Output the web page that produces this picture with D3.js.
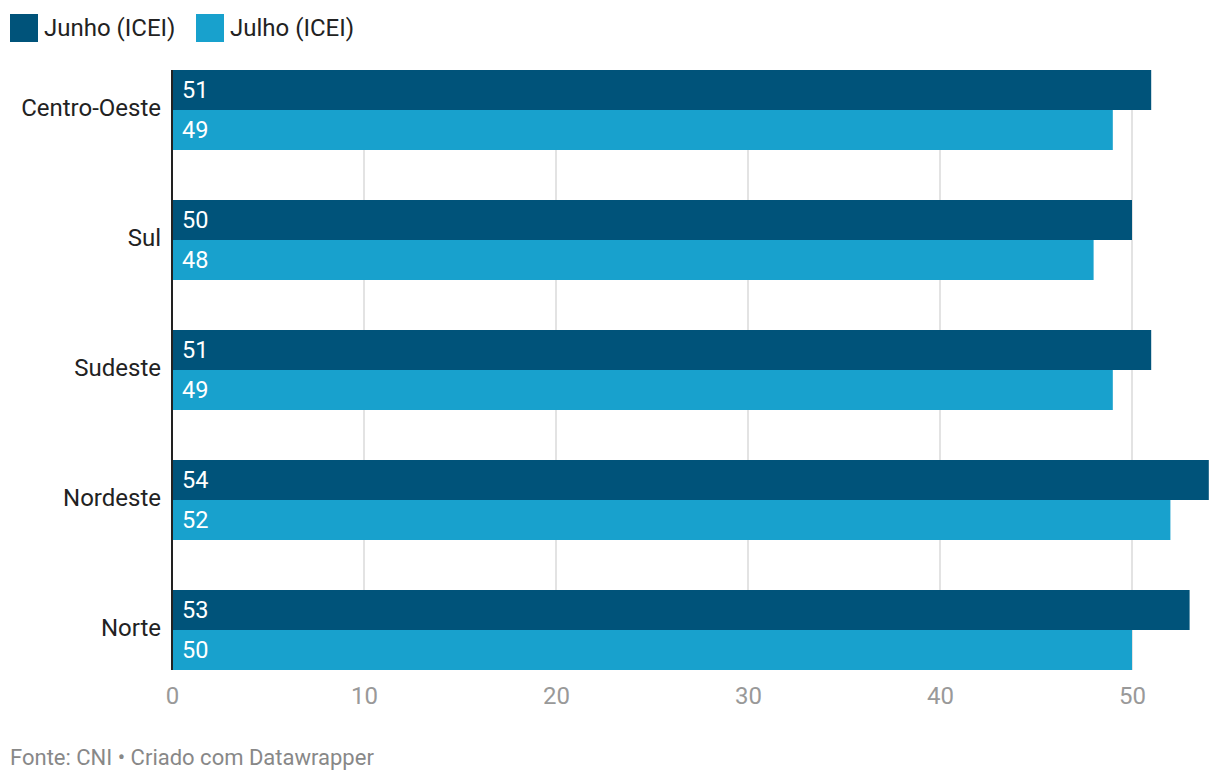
<!DOCTYPE html>
<html><head><meta charset="utf-8">
<script src="https://cdn.jsdelivr.net/npm/d3@7"></script>
<style>
html,body{margin:0;padding:0;background:#fff;}
svg{display:block;font-family:Roboto, "Noto Sans", sans-serif;}
</style></head>
<body>
<svg id="chart" width="1220" height="782"></svg>
<script>
const categories = ["Centro-Oeste","Sul","Sudeste","Nordeste","Norte"];
const seriesNames = ["Junho (ICEI)","Julho (ICEI)"];
const junho = [51,50,51,54,53];
const julho = [49,48,49,52,50];
const ticks = [0,10,20,30,40,50];
const colors = ["#00537a","#18a1cd"];
const footer = "Fonte: CNI • Criado com Datawrapper";

const svg = d3.select("#chart");
const x = d3.scaleLinear().domain([0,50]).range([172,1132]);
const y = d3.scaleBand().domain(categories).range([70,670]).paddingInner(50/130).paddingOuter(0);
const ySub = d3.scaleBand().domain(seriesNames).range([0,y.bandwidth()]);

// legend
const leg = svg.append("g");
const legX = [10,196];
seriesNames.forEach((s,i)=>{
  leg.append("rect").attr("x",legX[i]).attr("y",14).attr("width",28).attr("height",28).attr("fill",colors[i]);
  leg.append("text").attr("x",legX[i]+34).attr("y",27.5).attr("dy","0.35em")
    .attr("font-size",24).attr("fill","#222").text(s);
});

// gridlines
svg.append("g").selectAll("line").data(ticks.filter(t=>t>0)).join("line")
  .attr("x1",d=>x(d)).attr("x2",d=>x(d)).attr("y1",70).attr("y2",670)
  .attr("stroke","#e3e3e3").attr("stroke-width",2);

// bars
const data = categories.map((c,i)=>({cat:c, vals:[junho[i],julho[i]]}));
const g = svg.append("g");
data.forEach(d=>{
  d.vals.forEach((v,j)=>{
    const yy = y(d.cat)+ySub(seriesNames[j]);
    g.append("rect").attr("x",x(0)).attr("y",yy).attr("width",x(v)-x(0)).attr("height",ySub.bandwidth()).attr("fill",colors[j]);
    g.append("text").attr("x",x(0)+10).attr("y",yy+ySub.bandwidth()/2).attr("dy","0.35em")
      .attr("font-size",23.5).attr("fill","#fff").text(v);
  });
});

// baseline
svg.append("line").attr("x1",x(0)).attr("x2",x(0)).attr("y1",70).attr("y2",670).attr("stroke","#222").attr("stroke-width",2);

// category labels
svg.append("g").selectAll("text").data(categories).join("text")
  .attr("x",161).attr("y",d=>y(d)+y.bandwidth()/2-2.5).attr("dy","0.35em").attr("text-anchor","end")
  .attr("font-size",24).attr("fill","#222").text(d=>d);

// x axis labels
const xa = svg.append("g").attr("transform","translate(0,695.5)")
  .call(d3.axisBottom(x).tickValues(ticks).tickSize(0).tickPadding(0));
xa.select(".domain").remove();
xa.selectAll("text").attr("font-size",24).attr("fill","#999").attr("font-family","Roboto, sans-serif").attr("dy","0.35em").attr("y",0);

// footer
svg.append("text").attr("x",10).attr("y",757).attr("dy","0.35em").attr("font-size",22).attr("fill","#888").text(footer);
</script>
</body></html>
